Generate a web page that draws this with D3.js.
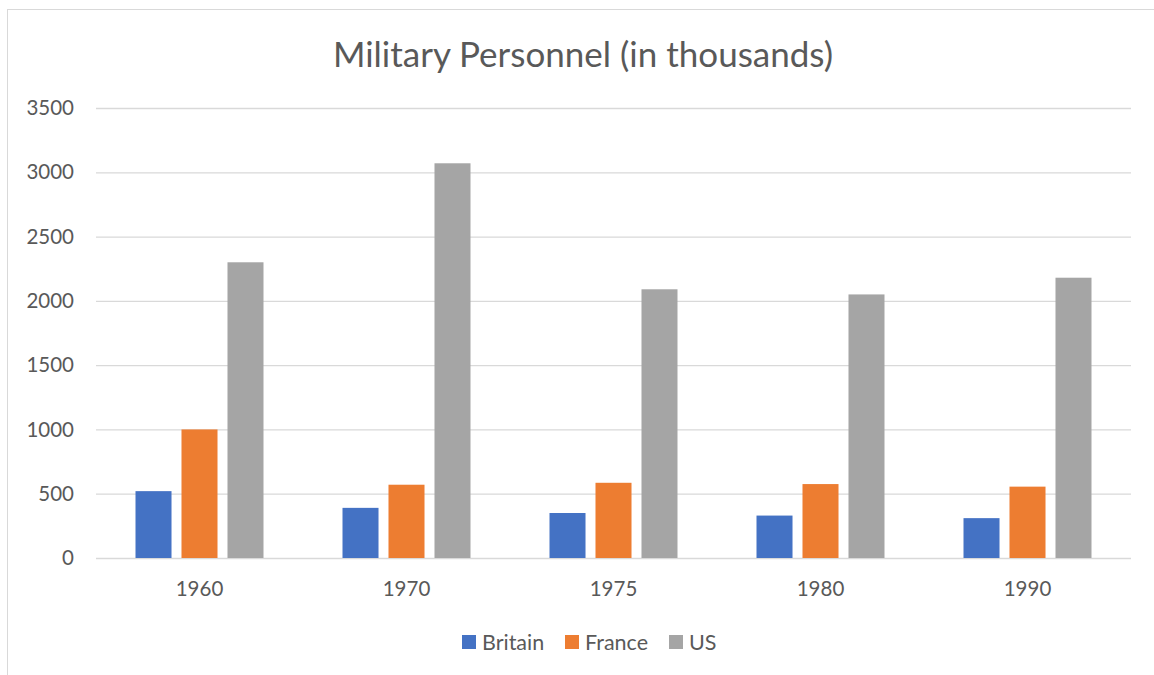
<!DOCTYPE html>
<meta charset="utf-8">
<script src="https://d3js.org/d3.v7.min.js"></script>
<style>
  body { margin: 0; background: #fff; }
  text { font-family: Lato, "Open Sans", sans-serif; fill: #595959; }
</style>
<div id="chart"></div>
<script>

// data
const years = ["1960", "1970", "1975", "1980", "1990"];
const seriesNames = ["Britain", "France", "US"];
const britain = [520, 390, 350, 330, 310];
const france = [1000, 570, 585, 575, 555];
const us = [2300, 3070, 2090, 2050, 2180];
const yTicks = [0, 500, 1000, 1500, 2000, 2500, 3000, 3500];

const colors = ["#4472C4", "#ED7D31", "#A5A5A5"];
const allSeries = [britain, france, us];

const W = 1154, H = 675;
const margin = {top: 108, right: 23, bottom: 117, left: 96};
const width = W - margin.left - margin.right;
const height = H - margin.top - margin.bottom;

const svg = d3.select("#chart").append("svg")
    .attr("width", W)
    .attr("height", H);

// chart border
svg.append("rect")
    .attr("x", 7.5).attr("y", 9.5)
    .attr("width", W + 10).attr("height", H + 10)
    .attr("fill", "none")
    .attr("stroke", "#D9D9D9");

const g = svg.append("g")
    .attr("transform", "translate(" + margin.left + "," + margin.top + ")");

const y = d3.scaleLinear().domain([0, 3500]).range([height, 0]);
const x = d3.scaleBand().domain(years).range([0, width]).paddingInner(0).paddingOuter(0);
const xs = d3.scaleBand().domain(seriesNames).range([-64, 64]).paddingInner(0.217).paddingOuter(0);

// gridlines
g.append("g")
    .call(d3.axisLeft(y).tickValues(yTicks).tickSize(-width).tickFormat(""))
    .call(a => a.select(".domain").remove())
    .call(a => a.selectAll("line").attr("stroke", "#D9D9D9").attr("stroke-width", 1.3));

// y labels
g.selectAll(".ylab")
  .data(yTicks)
  .enter()
  .append("text")
    .attr("x", -22)
    .attr("y", d => y(d))
    .attr("dy", "0.35em")
    .attr("text-anchor", "end")
    .style("font-size", "20.5px")
    .text(d => d);

// bars
seriesNames.forEach(function(name, i) {
  g.selectAll(".bar" + i)
    .data(allSeries[i])
    .enter()
    .append("rect")
      .attr("x", (d, j) => x(years[j]) + x.bandwidth() / 2 + xs(name))
      .attr("y", d => y(d))
      .attr("width", xs.bandwidth())
      .attr("height", d => height - y(d))
      .attr("fill", colors[i]);
});

// x labels
g.selectAll(".xlab")
  .data(years)
  .enter()
  .append("text")
    .attr("x", d => x(d) + x.bandwidth() / 2)
    .attr("y", height + 31)
    .attr("dy", "0.35em")
    .attr("text-anchor", "middle")
    .style("font-size", "20.5px")
    .text(d => d);

// title
svg.append("text")
    .attr("x", 583)
    .attr("y", 55)
    .attr("dy", "0.35em")
    .attr("text-anchor", "middle")
    .style("font-size", "35px")
    .text("Military Personnel (in thousands)");

// legend
const legendX = [462, 565, 669];
seriesNames.forEach(function(name, i) {
  svg.append("rect")
      .attr("x", legendX[i]).attr("y", 635)
      .attr("width", 14).attr("height", 14)
      .attr("fill", colors[i]);
  svg.append("text")
      .attr("x", legendX[i] + 20).attr("y", 642)
      .attr("dy", "0.35em")
      .style("font-size", "21.5px")
      .text(name);
});
</script>
